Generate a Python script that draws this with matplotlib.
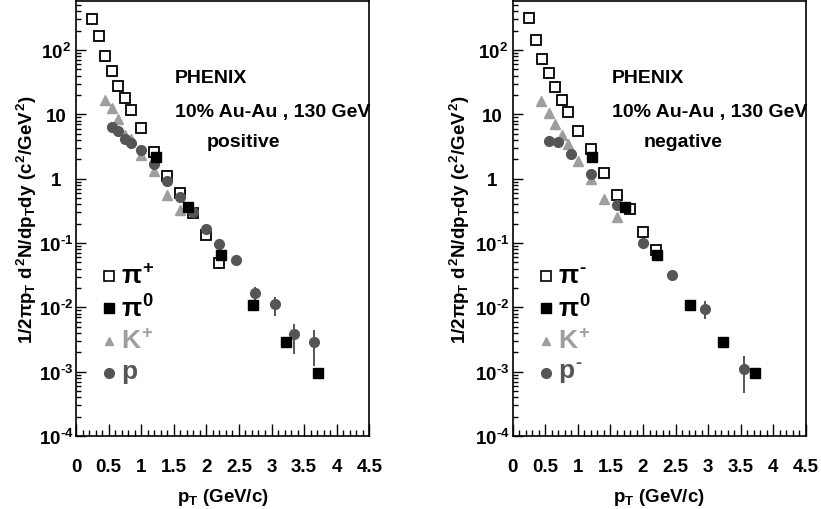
import numpy as np
import matplotlib
matplotlib.use("Agg")
import matplotlib.pyplot as plt
from matplotlib.ticker import MultipleLocator, LogLocator, NullFormatter

plt.rcParams['font.family'] = ['Liberation Sans', 'DejaVu Sans']
plt.rcParams['font.weight'] = 'bold'
plt.rcParams['mathtext.fontset'] = 'custom'
plt.rcParams['mathtext.rm'] = 'Liberation Sans:bold'
plt.rcParams['mathtext.it'] = 'Liberation Sans:bold'
plt.rcParams['mathtext.bf'] = 'Liberation Sans:bold'
plt.rcParams['mathtext.sf'] = 'Liberation Sans:bold'

# ---------------- data ----------------
pi_x = [0.25, 0.35, 0.45, 0.55, 0.65, 0.75, 0.85, 1.0, 1.2, 1.4, 1.6, 1.8, 2.0, 2.2]
pip_y = [302, 166, 81, 47, 28, 18, 11.9, 6.2, 2.65, 1.12, 0.60, 0.29, 0.135, 0.049]
pip_err = [0, 0, 0, 0, 0, 0, 0, 0, 0, 0, 0, 0, 0, 0.009]
pim_y = [310, 143, 72, 44, 26.5, 17, 10.8, 5.5, 2.9, 1.23, 0.56, 0.34, 0.148, 0.079]

pi0_x = [1.22, 1.72, 2.22, 2.72, 3.22, 3.72]
pi0_y = [2.15, 0.36, 0.065, 0.011, 0.0029, 0.00095]

kp_x = [0.45, 0.55, 0.65, 0.75, 0.85, 1.0, 1.2, 1.4, 1.6]
kp_y = [17, 12.6, 8.5, 4.8, 4.1, 2.3, 1.3, 0.55, 0.33]
km_x = [0.43, 0.55, 0.65, 0.755, 0.845, 1.0, 1.2, 1.4, 1.6]
km_y = [16.2, 10.4, 7.1, 4.8, 3.5, 1.9, 1.0, 0.48, 0.25]

p_x = [0.55, 0.65, 0.75, 0.85, 1.0, 1.2, 1.4, 1.6, 1.8, 2.0, 2.2, 2.45, 2.75, 3.05, 3.35, 3.65]
p_y = [6.4, 5.5, 4.2, 3.6, 2.8, 1.7, 0.93, 0.52, 0.30, 0.168, 0.095, 0.055, 0.0166, 0.0112, 0.0038, 0.0029]
p_lo = [None] * 12 + [0.013, 0.0073, 0.0019, 0.00123]
p_hi = [None] * 12 + [0.021, 0.0147, 0.0056, 0.0045]

pb_x = [0.55, 0.70, 0.90, 1.2, 1.6, 2.0, 2.45, 2.95, 3.55]
pb_y = [3.8, 3.7, 2.45, 1.2, 0.39, 0.10, 0.032, 0.0093, 0.0011]
pb_lo = [None] * 7 + [0.0065, 0.00046]
pb_hi = [None] * 7 + [0.0126, 0.00176]

ytick_vals = [1e-4, 1e-3, 1e-2, 1e-1, 1, 10, 100]
ytick_labels = [r'$10^{\text{-}4}$', r'$10^{\text{-}3}$', r'$10^{\text{-}2}$',
                r'$10^{\text{-}1}$', '1', '10', r'$10^{2}$']
xtick_vals = [0, 0.5, 1, 1.5, 2, 2.5, 3, 3.5, 4, 4.5]
xtick_labels = ['0', '0.5', '1', '1.5', '2', '2.5', '3', '3.5', '4', '4.5']

title_lines = ['PHENIX', '10% Au-Au , 130 GeV']
charge_labels = ['positive', 'negative']
legend_pos = [r'$\pi^{+}$', r'$\pi^{0}$', r'$K^{+}$', r'$p$']
legend_neg = [r'$\pi^{\text{-}}$', r'$\pi^{0}$', r'$K^{+}$', r'$p^{\text{-}}$']

C_K = '#9e9e9e'
C_P = '#555555'


def errs(y, lo, hi):
    y = np.array(y, float)
    l = np.array([yy - v if v is not None else 0 for yy, v in zip(y, lo)])
    h = np.array([v - yy if v is not None else 0 for yy, v in zip(y, hi)])
    return [l, h]


fig = plt.figure(figsize=(8.21, 5.10), dpi=100)
W, H = 821, 510
axL = fig.add_axes([76 / W, 73 / H, 293.3 / W, 435 / H])
axR = fig.add_axes([512.7 / W, 73 / H, 293.3 / W, 435 / H])


def draw(ax, pix, piy, pierr, kx, ky, px, py, perr, legend, charge, ylab_x):
    ax.set_yscale('log')
    ax.errorbar(pix, piy, yerr=pierr, fmt='s', ms=6.8, mfc='white', mec='black',
                mew=1.3, ecolor='black', elinewidth=1.2, capsize=0, zorder=3)
    ax.plot(kx, ky, '^', ms=7.5, color=C_K, mec=C_K, zorder=4)
    ax.errorbar(px, py, yerr=perr, fmt='o', ms=7, color=C_P, mec=C_P,
                ecolor=C_P, elinewidth=1.4, capsize=0, zorder=5)
    ax.plot(pi0_x, pi0_y, 's', ms=7, color='black', zorder=6)

    ax.set_xlim(0, 4.5)
    ax.set_ylim(1e-4, 580)
    ax.set_xticks(xtick_vals, xtick_labels)
    ax.xaxis.set_minor_locator(MultipleLocator(0.1))
    ax.set_yticks(ytick_vals, ytick_labels)
    ax.yaxis.set_minor_locator(LogLocator(base=10, subs=np.arange(2, 10), numticks=20))
    ax.yaxis.set_minor_formatter(NullFormatter())
    ax.tick_params(axis='x', which='major', direction='in', length=8.5, width=1.0,
                   labelsize=13.5, pad=16.0, top=False)
    ax.tick_params(axis='x', which='minor', direction='in', length=4.3, width=1.0, top=False)
    ax.tick_params(axis='y', which='major', direction='in', length=7, width=1.0,
                   labelsize=13.5, pad=14.5, right=False)
    ax.tick_params(axis='y', which='minor', direction='in', length=3.6, width=1.0, right=False)
    for lab in ax.get_yticklabels():
        lab.set_ha('center')
    for sp in ax.spines.values():
        sp.set_linewidth(1.2)

    ax.set_xlabel(r'$p_{T}$ (GeV/c)', fontsize=13.5, fontweight='bold')
    ax.xaxis.set_label_coords(0.5, -0.138)
    ax.xaxis.label.set_va('center')
    ax.set_ylabel(r'$1/2\pi p_{T}\ d^{2}N/dp_{T}dy\ (c^{2}/GeV^{2})$', fontsize=13.5)
    ax.yaxis.set_label_coords(ylab_x, 0.5)
    ax.yaxis.label.set_va('center')

    ax.text(0.3375, 0.825, title_lines[0], transform=ax.transAxes, fontsize=14,
            fontweight='bold', va='center', ha='left')
    ax.text(0.3375, 0.747, title_lines[1], transform=ax.transAxes, fontsize=14,
            fontweight='bold', va='center', ha='left')
    ax.text(0.446, 0.678, charge, transform=ax.transAxes, fontsize=14,
            fontweight='bold', va='center', ha='left')

    # legend
    styles = [dict(marker='s', ms=7, mfc='white', mec='black', mew=1.2),
              dict(marker='s', ms=7, color='black'),
              dict(marker='^', ms=6, color=C_K),
              dict(marker='o', ms=7, color=C_P)]
    tcolors = ['black', 'black', C_K, C_P]
    y0 = 0.368
    step = 32.3 / 435
    for i, (lab, st, tc) in enumerate(zip(legend, styles, tcolors)):
        yy = y0 - i * step
        ax.plot([0.1125], [yy], transform=ax.transAxes, linestyle='none', clip_on=False, **st)
        ax.text(0.155, yy, lab, transform=ax.transAxes, fontsize=19, color=tc,
                va='center', ha='left')


draw(axL, pi_x, pip_y, pip_err, kp_x, kp_y, p_x, p_y, errs(p_y, p_lo, p_hi),
     legend_pos, charge_labels[0], -0.167)
draw(axR, pi_x, pim_y, None, km_x, km_y, pb_x, pb_y, errs(pb_y, pb_lo, pb_hi),
     legend_neg, charge_labels[1], -0.18)

fig.savefig('out.png', dpi=100)
